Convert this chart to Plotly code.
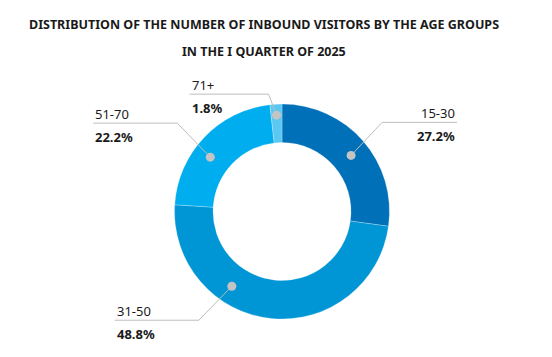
import math
import plotly.graph_objects as go

# ---- data ----
categories = ["15-30", "31-50", "51-70", "71+"]
shares = [27.2, 48.8, 22.2, 1.8]
value_labels = ["27.2%", "48.8%", "22.2%", "1.8%"]
title_lines = ["DISTRIBUTION OF THE NUMBER OF INBOUND VISITORS BY THE AGE GROUPS",
               "IN THE I QUARTER OF 2025"]

# ---- style / layout ----
W, H = 552, 357
colors = ["#0070B8", "#0096D6", "#00AEEF", "#5AC8F2"]
cx, cy, R, r_in = 282, 211.5, 107.5, 69
# leader style: (position of dot within slice, dot radius, elbow dx, dy from dot, horizontal length, side)
leader = {
    "15-30": (0.52, 89, 31, -33, 75, 1),
    "31-50": (0.66, 90, -33, 34, 84, -1),
    "51-70": (0.42, 90, -33, -34, 84, -1),
    "71+": (0.5, 96.5, -8, -21, 79, -1),
}
text_color = "#1a1a1a"
line_color = "#BDBDBD"
font = "Noto Sans"

fig = go.Figure()
fig.add_trace(go.Pie(
    labels=categories, values=shares, hole=r_in / R, sort=False,
    direction="clockwise", rotation=0, textinfo="none", hoverinfo="label+percent",
    marker=dict(colors=colors, line=dict(color="rgba(255,255,255,0.5)", width=0.5)),
    domain=dict(x=[(cx - R) / W, (cx + R) / W], y=[(H - cy - R) / H, (H - cy + R) / H]),
    showlegend=False,
))

total = sum(shares)
cum = 0
shapes, annotations = [], []
dot_r = 4.5
for cat, v, vl in zip(categories, shares, value_labels):
    frac, rm, ex, ey, L, side = leader[cat]
    ang = (cum + v * frac) / total * 2 * math.pi
    cum += v
    dx = cx + rm * math.sin(ang)
    dy = cy - rm * math.cos(ang)
    ex, ey = dx + ex, dy + ey
    endx = ex + side * L
    shapes.append(dict(type="path", xref="x", yref="y",
                       path=f"M {dx},{dy} L {ex},{ey} L {endx},{ey}",
                       line=dict(color=line_color, width=1), layer="above"))
    shapes.append(dict(type="circle", xref="x", yref="y",
                       x0=dx - dot_r, x1=dx + dot_r, y0=dy - dot_r, y1=dy + dot_r,
                       fillcolor="#C4C4C4", line=dict(width=0), layer="above"))
    anchor = "right" if side > 0 else "left"
    annotations.append(dict(x=endx, y=ey + 2, xref="x", yref="y", text=cat,
                            showarrow=False, xanchor=anchor, yanchor="bottom",
                            font=dict(family=font, size=13, color=text_color)))
    annotations.append(dict(x=endx, y=ey + 3, xref="x", yref="y", text=f"<b>{vl}</b>",
                            showarrow=False, xanchor=anchor, yanchor="top",
                            font=dict(family=font, size=13, color=text_color)))

for i, t in enumerate(title_lines):
    annotations.append(dict(x=264, y=24 + 27 * i, xref="x", yref="y",
                            text=f"<b>{t}</b>", showarrow=False,
                            xanchor="center", yanchor="middle",
                            font=dict(family=font, size=12.5, color=text_color)))

fig.update_layout(
    width=W, height=H, margin=dict(l=0, r=0, t=0, b=0),
    paper_bgcolor="white", plot_bgcolor="rgba(0,0,0,0)",
    xaxis=dict(range=[0, W], visible=False, fixedrange=True),
    yaxis=dict(range=[H, 0], visible=False, fixedrange=True),
    shapes=shapes, annotations=annotations,
)
fig.write_html("out.html", config={"displayModeBar": False},
               post_script="document.body.style.margin='0';")
